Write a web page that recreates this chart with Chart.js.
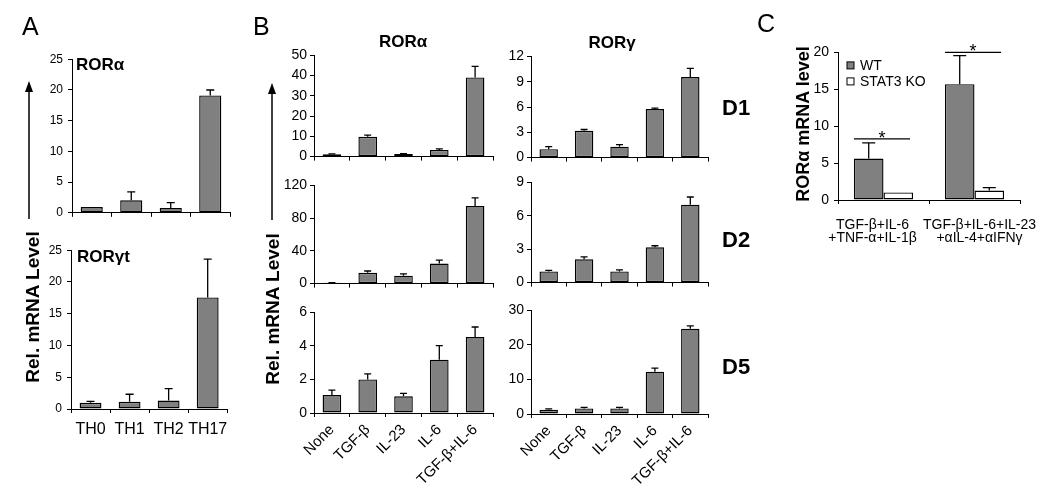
<!DOCTYPE html>
<html>
<head>
<meta charset="utf-8">
<script src="https://cdn.jsdelivr.net/npm/chart.js@4.4.1/dist/chart.umd.min.js"></script>
<style>
  body { margin: 0; background: #fff; width: 1050px; height: 498px; position: relative; overflow: hidden;
         font-family: "Liberation Sans", Arial, sans-serif; color: #000; }
  canvas { position: absolute; }
  .t { position: absolute; white-space: nowrap; line-height: 1; transform: translateY(-50%); }
  .c { transform: translate(-50%, -50%); }
  .b { font-weight: bold; }
  .rot { transform: translate(-50%, -50%) rotate(-90deg); }
</style>
</head>
<body>
<canvas id="a-alpha"></canvas>
<canvas id="a-gammat"></canvas>
<canvas id="b-alpha-d1"></canvas>
<canvas id="b-alpha-d2"></canvas>
<canvas id="b-alpha-d5"></canvas>
<canvas id="b-gamma-d1"></canvas>
<canvas id="b-gamma-d2"></canvas>
<canvas id="b-gamma-d5"></canvas>
<canvas id="c-stat3"></canvas>

<svg width="1050" height="498" style="position:absolute;left:0;top:0">
  <line x1="29" y1="219" x2="29" y2="88" stroke="#000" stroke-width="1.5"/>
  <polygon points="29,81 25,92 33,92" fill="#000"/>
  <line x1="272" y1="220" x2="272" y2="90" stroke="#000" stroke-width="1.5"/>
  <polygon points="272,83 268,94 276,94" fill="#000"/>
</svg>

<div class="t" style="left:22px;top:26px;font-size:25px">A</div>
<div class="t" style="left:253px;top:26px;font-size:25px">B</div>
<div class="t" style="left:757px;top:23px;font-size:25px">C</div>

<div class="t b" style="left:76px;top:64px;font-size:17px">RORα</div>
<div class="t b" style="left:77px;top:256px;font-size:17px">RORγt</div>
<div class="t b rot" style="left:32px;top:307px;font-size:19px">Rel. mRNA Level</div>

<div class="t b c" style="left:403px;top:41px;font-size:17px">RORα</div>
<div class="t b c" style="left:612px;top:42px;font-size:17px">RORγ</div>
<div class="t b rot" style="left:272px;top:309px;font-size:19px">Rel. mRNA Level</div>
<div class="t b" style="left:722px;top:108px;font-size:22px">D1</div>
<div class="t b" style="left:722px;top:240px;font-size:22px">D2</div>
<div class="t b" style="left:722px;top:367px;font-size:22px">D5</div>

<div class="t b rot" style="left:803px;top:124px;font-size:18px">RORα mRNA level</div>

<script>
const FONT = '"Liberation Sans", Arial, sans-serif';

// panel A
const thLabels = ["TH0", "TH1", "TH2", "TH17"];
const thTicks = [0, 5, 10, 15, 20, 25];
const rorAlphaTh = [0.94, 2.04, 0.78, 19.1];
const rorAlphaThErr = [0, 1.35, 0.89, 0.89];
const rorGammaTTh = [0.98, 1.14, 1.34, 17.56];
const rorGammaTThErr = [0.21, 1.18, 1.86, 6.04];

// panel B
const cytokineLabels = ["None", "TGF-β", "IL-23", "IL-6", "TGF-β+IL-6"];
const alphaD1Ticks = [0, 10, 20, 30, 40, 50];
const alphaD2Ticks = [0, 40, 80, 120];
const alphaD5Ticks = [0, 2, 4, 6];
const gammaD1Ticks = [0, 3, 6, 9, 12];
const gammaD2Ticks = [0, 3, 6, 9];
const gammaD5Ticks = [0, 10, 20, 30];
const rorAlphaD1 = [1.1, 9.8, 1.3, 3.3, 39.1];
const rorAlphaD1Err = [0.2, 0.8, 0.2, 0.5, 5.5];
const rorAlphaD2 = [1.0, 13.2, 9.7, 24.5, 94.7];
const rorAlphaD2Err = [0.3, 2.2, 2.2, 4.3, 10.1];
const rorAlphaD5 = [1.07, 2.0, 1.0, 3.18, 4.53];
const rorAlphaD5Err = [0.3, 0.33, 0.17, 0.84, 0.6];
const rorGammaD1 = [1.0, 3.18, 1.29, 5.76, 9.55];
const rorGammaD1Err = [0.3, 0.15, 0.26, 0.11, 1.02];
const rorGammaD2 = [1.0, 2.09, 1.0, 3.17, 7.0];
const rorGammaD2Err = [0.09, 0.22, 0.14, 0.14, 0.69];
const rorGammaD5 = [1.23, 1.6, 1.6, 12.26, 24.7];
const rorGammaD5Err = [0.27, 0.3, 0.3, 1.04, 0.8];

// panel C
const stat3Labels = [["TGF-β+IL-6", "+TNF-α+IL-1β"], ["TGF-β+IL-6+IL-23", "+αIL-4+αIFNγ"]];
const stat3Ticks = [0, 5, 10, 15, 20];
const stat3Series = ["WT", "STAT3 KO"];
const stat3Wt = [5.62, 15.7];
const stat3WtErr = [2.12, 3.86];
const stat3Ko = [1.02, 1.28];
const stat3KoErr = [0, 0.4];
const stat3Sig = [8.27, 20.0];

const GRAY = "#808080";

// upward error bars, read from dataset.errors
const errorBars = {
  id: "errorBars",
  afterDatasetsDraw(chart) {
    const ctx = chart.ctx;
    const y = chart.scales.y;
    chart.data.datasets.forEach((ds, di) => {
      if (!ds.errors) return;
      const cap = ds.errCap || 8;
      chart.getDatasetMeta(di).data.forEach((bar, i) => {
        const e = ds.errors[i];
        if (!e) return;
        const top = y.getPixelForValue(ds.data[i] + e);
        ctx.save();
        ctx.strokeStyle = "#000";
        ctx.lineWidth = 1.3;
        ctx.beginPath();
        ctx.moveTo(bar.x, bar.y);
        ctx.lineTo(bar.x, top);
        ctx.moveTo(bar.x - cap / 2, top);
        ctx.lineTo(bar.x + cap / 2, top);
        ctx.stroke();
        ctx.restore();
      });
    });
  },
};

function series(values, errors, color, extra) {
  return Object.assign({
    data: values,
    errors: errors,
    backgroundColor: color,
    borderColor: "#000",
    borderWidth: 1.4,
    borderSkipped: false,
  }, extra || {});
}

function barChart(id, box, spec) {
  const canvas = document.getElementById(id);
  const w = spec.yw + (box.r - box.l) + spec.pr;
  const h = spec.pt + (box.b - box.t) + spec.xh;
  canvas.width = w;
  canvas.height = h;
  canvas.style.left = box.l - spec.yw + "px";
  canvas.style.top = box.t - spec.pt + "px";
  canvas.style.width = w + "px";
  canvas.style.height = h + "px";
  const yTicks = spec.yTicks;
  const xt = spec.xTicks || {};
  return new Chart(canvas, {
    type: "bar",
    data: { labels: spec.labels, datasets: spec.datasets },
    options: {
      responsive: false,
      animation: false,
      devicePixelRatio: 1,
      layout: { padding: { top: spec.pt, right: spec.pr, left: 0, bottom: 0 } },
      plugins: { legend: { display: false }, tooltip: { enabled: false } },
      scales: {
        x: {
          offset: true,
          grid: { display: true, drawOnChartArea: false, offset: true, tickLength: 4, color: "#000", lineWidth: 1 },
          border: { display: true, color: "#000", width: 1 },
          ticks: {
            display: !!xt.display,
            autoSkip: false,
            minRotation: xt.rotation || 0,
            maxRotation: xt.rotation || 0,
            padding: xt.padding || 3,
            color: "#000",
            font: { family: FONT, size: xt.size || 14 },
          },
          afterFit: (s) => { s.height = spec.xh; },
        },
        y: {
          min: yTicks[0],
          max: yTicks[yTicks.length - 1],
          afterBuildTicks: (s) => { s.ticks = yTicks.map((v) => ({ value: v })); },
          grid: { display: true, drawOnChartArea: false, tickLength: 4, color: "#000", lineWidth: 1 },
          border: { display: true, color: "#000", width: 1 },
          ticks: { color: "#000", padding: spec.yPad, font: { family: FONT, size: spec.ySize } },
          afterFit: (s) => { s.width = spec.yw; },
        },
      },
    },
    plugins: [errorBars].concat(spec.plugins || []),
  });
}

// panel A
const aSpec = { labels: thLabels, yTicks: thTicks, yw: 40, pr: 6, pt: 10, ySize: 12, yPad: 5 };
barChart("a-alpha", { l: 72, t: 57, r: 230, b: 217 }, Object.assign({}, aSpec, {
  xh: 8,
  datasets: [series(rorAlphaTh, rorAlphaThErr, GRAY, { barPercentage: 0.56, categoryPercentage: 1, errCap: 8 })],
}));
barChart("a-gammat", { l: 71, t: 248, r: 229, b: 409 }, Object.assign({}, aSpec, {
  xh: 40,
  xTicks: { display: true, size: 16, padding: 7 },
  datasets: [series(rorGammaTTh, rorGammaTThErr, GRAY, { barPercentage: 0.56, categoryPercentage: 1, errCap: 8 })],
}));

// panel B
const bBar = { barPercentage: 0.52, categoryPercentage: 1, errCap: 7 };
const bSpec = { labels: cytokineLabels, pr: 8, pt: 10, ySize: 14, yPad: 3 };
const bLabels = { display: true, size: 15, rotation: 45, padding: 4 };

barChart("b-alpha-d1", { l: 314, t: 54, r: 493, b: 160 }, Object.assign({}, bSpec, {
  yTicks: alphaD1Ticks, yw: 40, xh: 8,
  datasets: [series(rorAlphaD1, rorAlphaD1Err, GRAY, bBar)],
}));
barChart("b-alpha-d2", { l: 314, t: 184, r: 493, b: 287 }, Object.assign({}, bSpec, {
  yTicks: alphaD2Ticks, yw: 40, xh: 8,
  datasets: [series(rorAlphaD2, rorAlphaD2Err, GRAY, bBar)],
}));
barChart("b-alpha-d5", { l: 314, t: 311, r: 493, b: 413 }, Object.assign({}, bSpec, {
  yTicks: alphaD5Ticks, yw: 40, xh: 85, xTicks: bLabels,
  datasets: [series(rorAlphaD5, rorAlphaD5Err, GRAY, bBar)],
}));
barChart("b-gamma-d1", { l: 531, t: 55, r: 708, b: 161 }, Object.assign({}, bSpec, {
  yTicks: gammaD1Ticks, yw: 30, xh: 8,
  datasets: [series(rorGammaD1, rorGammaD1Err, GRAY, bBar)],
}));
barChart("b-gamma-d2", { l: 531, t: 181, r: 708, b: 286 }, Object.assign({}, bSpec, {
  yTicks: gammaD2Ticks, yw: 30, xh: 8,
  datasets: [series(rorGammaD2, rorGammaD2Err, GRAY, bBar)],
}));
barChart("b-gamma-d5", { l: 531, t: 309, r: 708, b: 414 }, Object.assign({}, bSpec, {
  yTicks: gammaD5Ticks, yw: 30, xh: 85, xTicks: bLabels,
  datasets: [series(rorGammaD5, rorGammaD5Err, GRAY, bBar)],
}));

// panel C: significance bars, an inside legend and the two-line group labels
const sigBars = {
  id: "sigBars",
  afterDatasetsDraw(chart) {
    const ctx = chart.ctx;
    const y = chart.scales.y;
    const wt = chart.getDatasetMeta(0).data;
    const ko = chart.getDatasetMeta(1).data;
    stat3Sig.forEach((level, i) => {
      const py = y.getPixelForValue(level);
      const x0 = wt[i].x - wt[i].width / 2;
      const x1 = ko[i].x + ko[i].width / 2 - 3;
      ctx.save();
      ctx.strokeStyle = "#000";
      ctx.lineWidth = 1.2;
      ctx.beginPath();
      ctx.moveTo(x0, py);
      ctx.lineTo(x1, py);
      ctx.stroke();
      ctx.fillStyle = "#000";
      ctx.font = "18px " + FONT;
      ctx.textAlign = "center";
      ctx.textBaseline = "alphabetic";
      ctx.fillText("*", (x0 + x1) / 2, py + 5);
      ctx.restore();
    });
  },
};

const insideLegend = {
  id: "insideLegend",
  afterDraw(chart) {
    const ctx = chart.ctx;
    const area = chart.chartArea;
    ctx.save();
    ctx.font = "14px " + FONT;
    ctx.textBaseline = "middle";
    stat3Series.forEach((name, i) => {
      const cy = area.top + 13 + i * 16;
      const bx = area.left + 9;
      ctx.fillStyle = chart.data.datasets[i].backgroundColor;
      ctx.fillRect(bx, cy - 3.5, 7, 7);
      ctx.strokeStyle = "#000";
      ctx.lineWidth = 1;
      ctx.strokeRect(bx, cy - 3.5, 7, 7);
      ctx.fillStyle = "#000";
      ctx.fillText(name, bx + 13, cy + 1);
    });
    ctx.restore();
  },
};

// Excel pushed the two wrapped labels apart; shift each one a little
const groupLabelShift = [-11, 5];
const groupLabels = {
  id: "groupLabels",
  afterDraw(chart) {
    const ctx = chart.ctx;
    const x = chart.scales.x;
    const base = chart.chartArea.bottom;
    ctx.save();
    ctx.font = "14px " + FONT;
    ctx.fillStyle = "#000";
    ctx.textAlign = "center";
    ctx.textBaseline = "middle";
    stat3Labels.forEach((lines, i) => {
      const cx = x.getPixelForValue(i) + groupLabelShift[i];
      lines.forEach((line, j) => ctx.fillText(line, cx, base + 25 + j * 13.5));
    });
    ctx.restore();
  },
};

barChart("c-stat3", { l: 838, t: 49, r: 1020, b: 200 }, {
  labels: stat3Labels, yTicks: stat3Ticks, yw: 35, pr: 24, pt: 10, xh: 50,
  ySize: 14, yPad: 5,
  datasets: [
    series(stat3Wt, stat3WtErr, GRAY, { label: stat3Series[0], barPercentage: 1, categoryPercentage: 0.65, errCap: 13 }),
    series(stat3Ko, stat3KoErr, "#fff", { label: stat3Series[1], barPercentage: 1, categoryPercentage: 0.65, errCap: 13 }),
  ],
  plugins: [sigBars, insideLegend, groupLabels],
});
</script>
</body>
</html>
